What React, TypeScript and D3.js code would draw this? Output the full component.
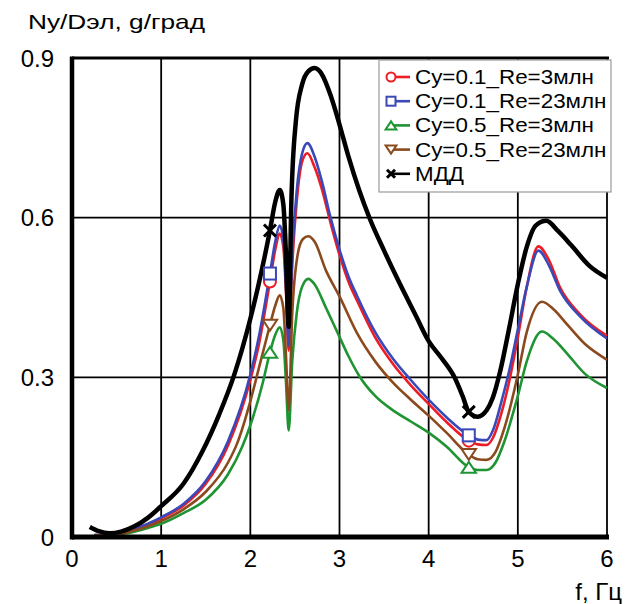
import React from "react";
import * as d3 from "d3";

// ---- data ----
const xTicks = [0, 1, 2, 3, 4, 5, 6];
const yTicks = [0, 0.3, 0.6, 0.9];
const markerF = [2.22, 4.45];

const fMdd = [0.2,0.3,0.42,0.55,0.7,0.85,1.0,1.25,1.46,1.65,1.82,2.0,2.1,2.22,2.28,2.33,2.37,2.4,2.43,2.46,2.51,2.58,2.65,2.72,2.8,2.9,3.0,3.1,3.22,3.34,3.5,3.67,3.85,4.0,4.15,4.29,4.38,4.45,4.55,4.65,4.72,4.8,4.9,5.0,5.1,5.2,5.32,5.45,5.6,5.8,6.0];
const yMdd = [0.019,0.011,0.007,0.01,0.02,0.036,0.058,0.1,0.16,0.23,0.305,0.41,0.48,0.576,0.63,0.652,0.625,0.53,0.395,0.63,0.78,0.85,0.875,0.881,0.87,0.83,0.775,0.715,0.652,0.598,0.538,0.478,0.418,0.368,0.335,0.3,0.265,0.235,0.226,0.238,0.262,0.31,0.39,0.475,0.545,0.585,0.594,0.575,0.548,0.51,0.487];

const fCy01 = [0.25,0.4,0.55,0.7,0.85,1.0,1.25,1.5,1.75,2.0,2.1,2.22,2.28,2.33,2.37,2.4,2.43,2.47,2.52,2.58,2.64,2.72,2.8,2.9,3.0,3.1,3.2,3.4,3.6,3.8,4.0,4.2,4.45,4.55,4.65,4.72,4.82,4.9,5.0,5.1,5.23,5.35,5.47,5.7,6.0];
const yCy01Re23 = [0.004,0.004,0.008,0.015,0.025,0.037,0.062,0.105,0.18,0.305,0.38,0.495,0.555,0.585,0.56,0.47,0.36,0.53,0.65,0.72,0.74,0.715,0.67,0.6,0.54,0.49,0.452,0.385,0.335,0.295,0.258,0.225,0.191,0.183,0.182,0.2,0.257,0.31,0.39,0.47,0.538,0.51,0.464,0.414,0.373];
const yCy01Re3 = [0.003,0.003,0.007,0.014,0.023,0.035,0.059,0.1,0.172,0.295,0.365,0.48,0.54,0.57,0.545,0.46,0.35,0.51,0.63,0.705,0.721,0.695,0.655,0.59,0.53,0.48,0.443,0.375,0.325,0.285,0.25,0.216,0.181,0.174,0.173,0.186,0.235,0.29,0.375,0.47,0.546,0.52,0.47,0.418,0.378];

const fCy05Re23 = [0.25,0.4,0.55,0.7,0.85,1.0,1.25,1.5,1.75,1.85,2.0,2.1,2.22,2.28,2.33,2.37,2.4,2.43,2.47,2.53,2.59,2.65,2.72,2.85,3.0,3.2,3.4,3.6,3.8,4.0,4.2,4.45,4.55,4.65,4.75,4.85,5.0,5.1,5.27,5.4,5.55,5.75,6.0];
const yCy05Re23 = [0.003,0.003,0.006,0.012,0.02,0.03,0.052,0.085,0.14,0.175,0.255,0.32,0.398,0.435,0.454,0.43,0.34,0.238,0.42,0.53,0.56,0.565,0.555,0.5,0.452,0.382,0.33,0.29,0.258,0.228,0.196,0.155,0.146,0.145,0.16,0.205,0.305,0.385,0.442,0.428,0.4,0.363,0.333];

const fCy05Re3 = [0.25,0.4,0.55,0.7,0.85,1.0,1.25,1.5,1.75,1.91,2.0,2.14,2.22,2.28,2.33,2.37,2.4,2.43,2.47,2.52,2.58,2.65,2.72,2.85,3.0,3.1,3.22,3.4,3.6,3.8,4.0,4.2,4.45,4.55,4.65,4.75,4.85,5.0,5.1,5.27,5.4,5.55,5.75,6.0];
const yCy05Re3 = [0.002,0.002,0.005,0.01,0.017,0.025,0.045,0.07,0.118,0.17,0.21,0.29,0.347,0.38,0.394,0.37,0.29,0.2,0.33,0.42,0.47,0.485,0.475,0.43,0.376,0.34,0.303,0.265,0.238,0.217,0.196,0.17,0.131,0.126,0.126,0.14,0.18,0.265,0.33,0.386,0.372,0.345,0.307,0.28];

const seriesNames = ["Cy=0.1_Re=3млн", "Cy=0.1_Re=23млн", "Cy=0.5_Re=3млн", "Cy=0.5_Re=23млн", "МДД"];

type Shape = "circle" | "square" | "triUp" | "triDown" | "cross";
const series = [
  { name: seriesNames[0], f: fCy01, y: yCy01Re3, color: "#ee1c24", width: 2.6, shape: "circle" as Shape },
  { name: seriesNames[1], f: fCy01, y: yCy01Re23, color: "#3a48b8", width: 2.6, shape: "square" as Shape },
  { name: seriesNames[2], f: fCy05Re3, y: yCy05Re3, color: "#1e9433", width: 2.6, shape: "triUp" as Shape },
  { name: seriesNames[3], f: fCy05Re23, y: yCy05Re23, color: "#8b4a1e", width: 2.6, shape: "triDown" as Shape },
  { name: seriesNames[4], f: fMdd, y: yMdd, color: "#000000", width: 4.5, shape: "cross" as Shape },
];

const FONT = "'Liberation Sans', Arial, sans-serif";

function Marker({ shape, cx, cy, color, s }: { shape: Shape; cx: number; cy: number; color: string; s: number }) {
  const sw = 2;
  if (shape === "circle") return <circle cx={cx} cy={cy} r={s / 2} fill="white" stroke={color} strokeWidth={sw} />;
  if (shape === "square") return <rect x={cx - s / 2} y={cy - s / 2} width={s} height={s} fill="white" stroke={color} strokeWidth={sw} />;
  if (shape === "triUp") {
    const h = s * 0.9;
    return <path d={`M${cx},${cy - h / 2} L${cx + s * 0.6},${cy + h / 2} L${cx - s * 0.6},${cy + h / 2} Z`} fill="white" stroke={color} strokeWidth={sw} />;
  }
  if (shape === "triDown") {
    const h = s * 0.9;
    return <path d={`M${cx},${cy + h / 2} L${cx + s * 0.6},${cy - h / 2} L${cx - s * 0.6},${cy - h / 2} Z`} fill="white" stroke={color} strokeWidth={sw} />;
  }
  const r = s / 2;
  return <path d={`M${cx - r},${cy - r} L${cx + r},${cy + r} M${cx - r},${cy + r} L${cx + r},${cy - r}`} stroke={color} strokeWidth={3} fill="none" />;
}

export default function App() {
  const W = 634, H = 604;
  const x = d3.scaleLinear().domain([0, 6]).range([72, 607]);
  const y = d3.scaleLinear().domain([0, 0.9]).range([537, 58]);
  const line = d3.line<[number, number]>().x(d => x(d[0])).y(d => y(d[1])).curve(d3.curveMonotoneX);

  const legendX = 379, legendY = 60, legendW = 232, legendH = 132;
  const rowH = 24.2;

  return (
    <svg width={W} height={H} style={{ display: "block", position: "absolute", left: 0, top: 0 }} fontFamily={FONT}>
      <rect width={W} height={H} fill="white" />
      {/* grid */}
      {xTicks.filter(t => t > 0).map(t => (
        <line key={"gx" + t} x1={x(t)} x2={x(t)} y1={y(0.9)} y2={y(0)} stroke="#000" strokeWidth={1.8} />
      ))}
      {yTicks.filter(t => t > 0 && t < 0.9).map(t => (
        <line key={"gy" + t} x1={x(0)} x2={x(6)} y1={y(t)} y2={y(t)} stroke="#000" strokeWidth={1.8} />
      ))}
      {/* curves */}
      {series.map(s => (
        <path key={s.name} d={line(s.f.map((f, i) => [f, s.y[i]] as [number, number])) || ""} fill="none" stroke={s.color} strokeWidth={s.width} strokeLinejoin="round" />
      ))}
      {/* markers */}
      {series.map(s =>
        markerF.map(mf => {
          const i = s.f.indexOf(mf);
          return <Marker key={s.name + mf} shape={s.shape} cx={x(mf)} cy={y(s.y[i])} color={s.color} s={12} />;
        })
      )}
      {/* axes */}
      <line x1={x(0)} x2={x(6) + 2} y1={y(0.9)} y2={y(0.9)} stroke="#000" strokeWidth={3} />
      <line x1={x(0)} x2={x(0)} y1={y(0.9) - 1.5} y2={y(0) + 2.5} stroke="#000" strokeWidth={4.5} />
      <line x1={x(0)} x2={x(6) + 2} y1={y(0)} y2={y(0)} stroke="#000" strokeWidth={5} />
      {/* legend */}
      <rect x={legendX} y={legendY} width={legendW} height={legendH} fill="white" stroke="#9a9a9a" strokeWidth={1.2} />
      {series.map((s, i) => {
        const cy = 77 + i * rowH;
        return (
          <g key={"lg" + s.name}>
            <line x1={392} x2={410} y1={cy} y2={cy} stroke={s.color} strokeWidth={2.6} />
            <Marker shape={s.shape} cx={391} cy={cy} color={s.color} s={s.shape === "cross" ? 8 : 9} />
            <text transform={`translate(415,${cy}) scale(1.12,1)`} dominantBaseline="central" fontSize={20} fill="#000">{s.name}</text>
          </g>
        );
      })}
      {/* tick labels */}
      {yTicks.map(t => (
        <text key={"yl" + t} x={54} y={y(t)} textAnchor="end" dominantBaseline="central" fontSize={24}>{t === 0 ? "0" : t.toFixed(1)}</text>
      ))}
      {xTicks.map(t => (
        <text key={"xl" + t} x={x(t)} y={558} textAnchor="middle" dominantBaseline="central" fontSize={24}>{t}</text>
      ))}
      <text x={622} y={600} textAnchor="end" fontSize={24}>f, Гц</text>
      <text transform="translate(28,29) scale(1.25,1)" fontSize={21}>Ny/Dэл, g/град</text>
    </svg>
  );
}
